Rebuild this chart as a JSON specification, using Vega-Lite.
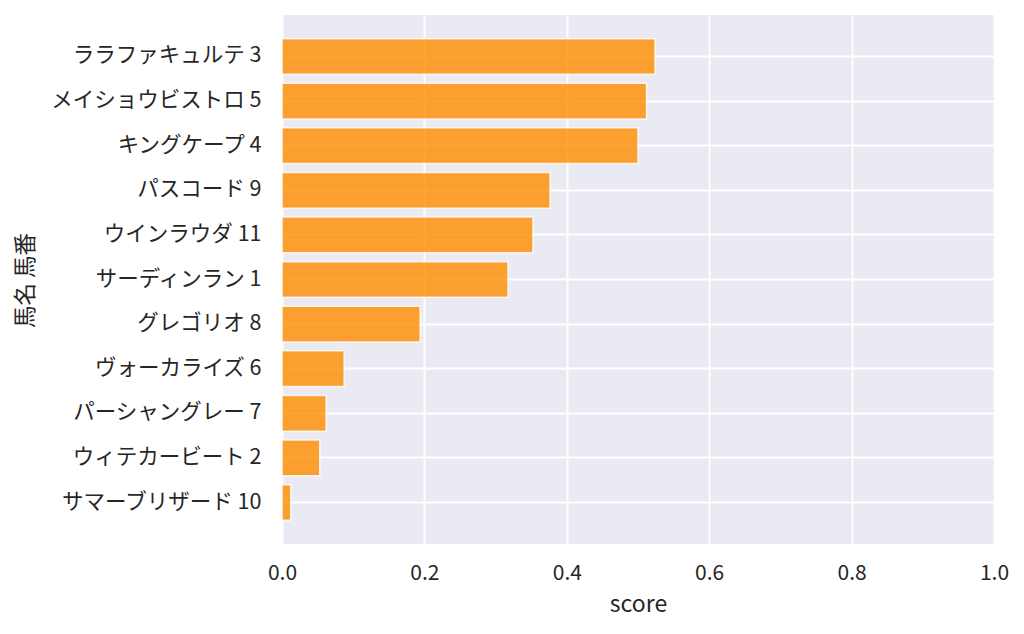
{
  "$schema": "https://vega.github.io/schema/vega-lite/v6.json",
  "autosize": "none",
  "width": 712,
  "height": 529,
  "padding": {"left": 282, "top": 15, "right": 30, "bottom": 90},
  "background": "#ffffff",
  "config": {
    "view": {"fill": "#eaeaf2", "stroke": null},
    "font": "Noto Sans CJK JP"
  },
  "data": {
    "values": [
      {"label": "ララファキュルテ 3", "score": 0.524},
      {"label": "メイショウビストロ 5", "score": 0.512},
      {"label": "キングケープ 4", "score": 0.5},
      {"label": "パスコード 9", "score": 0.3765},
      {"label": "ウインラウダ 11", "score": 0.3525},
      {"label": "サーディンラン 1", "score": 0.3174},
      {"label": "グレゴリオ 8", "score": 0.194},
      {"label": "ヴォーカライズ 6", "score": 0.0873},
      {"label": "パーシャングレー 7", "score": 0.062},
      {"label": "ウィテカービート 2", "score": 0.053},
      {"label": "サマーブリザード 10", "score": 0.0123}
    ]
  },
  "mark": {
    "type": "bar",
    "fill": "#ff8c00",
    "fillOpacity": 0.8,
    "stroke": "#ffffff",
    "strokeOpacity": 0.8,
    "strokeWidth": 1.5
  },
  "encoding": {
    "y": {
      "field": "label",
      "type": "nominal",
      "sort": null,
      "scale": {"paddingInner": 0.2, "paddingOuter": 0.53},
      "axis": {
        "title": "馬名 馬番",
        "titleFontSize": 22.5,
        "titleFontWeight": "normal",
        "titleColor": "#262626",
        "titleAngle": -90,
        "titleX": -257,
        "titleY": 265,
        "titleAlign": "center",
        "titleBaseline": "middle",
        "labelFontSize": 21.5,
        "labelColor": "#262626",
        "labelPadding": 21,
        "ticks": false,
        "domain": false,
        "grid": true,
        "bandPosition": 0.5,
        "gridColor": "#ffffff",
        "gridWidth": 1.8,
        "labelLimit": 400
      }
    },
    "x": {
      "field": "score",
      "type": "quantitative",
      "scale": {"domain": [0, 1], "nice": false},
      "axis": {
        "title": "score",
        "titleFontSize": 23,
        "titleFontWeight": "normal",
        "titleColor": "#262626",
        "titlePadding": 10,
        "values": [0, 0.2, 0.4, 0.6, 0.8, 1.0],
        "format": ".1f",
        "labelFontSize": 21,
        "labelColor": "#262626",
        "labelPadding": 18,
        "labelFlush": false,
        "ticks": false,
        "domain": false,
        "grid": true,
        "gridColor": "#ffffff",
        "gridWidth": 1.8
      }
    }
  }
}
